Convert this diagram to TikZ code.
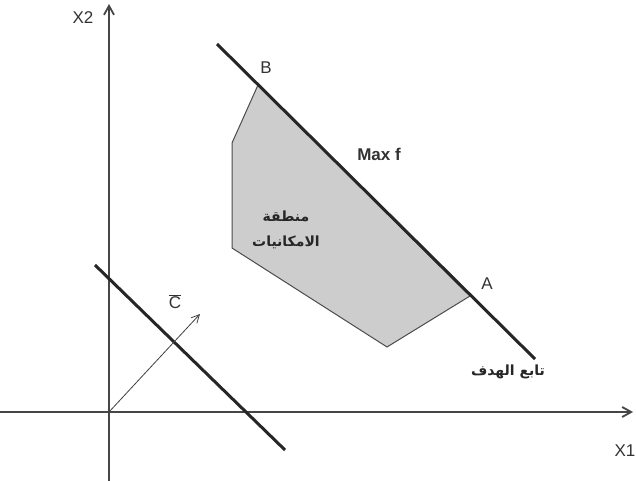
\documentclass[tikz,border=0pt]{standalone}
\usepackage{fontspec}
\setmainfont{Liberation Sans}
\newfontfamily\arabicfont[Script=Arabic]{DejaVu Sans}
\TeXXeTstate=1
\usetikzlibrary{arrows.meta, positioning}
\definecolor{regiongray}{RGB}{205, 205, 205}
\definecolor{axisgray}{RGB}{70, 70, 70}

\begin{document}
\begin{tikzpicture}[
    x=1pt, y=-1pt,
    axis/.style={draw=axisgray, line width=1.8pt, -{Straight Barb[length=9pt, width=10pt]}},
    objline/.style={draw=black!85, line width=3pt},
    region/.style={fill=regiongray, draw=black!70, line width=1pt},
    vec/.style={draw=black!75, line width=0.8pt, -{Straight Barb[length=8pt, width=8pt]}},
    lbl/.style={font=\fontsize{17}{19}\selectfont, text=black!80, inner sep=0pt},
    arlbl/.style={font=\fontsize{14}{18}\selectfont\arabicfont\bfseries, text=black!85, inner sep=0pt}
]
\useasboundingbox[fill=white] (0,0) rectangle (636,481);

% AXES
\coordinate (O) at (109,412);
\coordinate (xstart) at (0,412);
\coordinate (xend) at (633,412);
\coordinate (ybot) at (109,481);
\coordinate (ytop) at (109,4);
\draw[axis] (xstart) -- (xend);
\draw[axis] (ybot) -- (ytop);
\node[lbl] (x1) at (625,451) {X1};
\node[lbl] (x2) at (83,18) {X2};

% FEASIBLE REGION
\coordinate (B) at (258,85);
\coordinate (P1) at (232,143);
\coordinate (P2) at (232,248);
\coordinate (P3) at (387,347);
\coordinate (A) at (470,296);
\filldraw[region] (B) -- (P1) -- (P2) -- (P3) -- (A) -- cycle;
\node[arlbl] (reg1) at (286,216) {\beginR منطقة\endR};
\node[arlbl] (reg2) at (286,242) {\beginR الامكانيات\endR};

% OBJECTIVE LINES
\coordinate (f1) at (217,44);
\coordinate (f2) at (535,359);
\draw[objline] (f1) -- (f2);
\coordinate (g1) at (95,265);
\coordinate (g2) at (285,450);
\draw[objline] (g1) -- (g2);
\node[lbl] (lblB) at (266,68) {B};
\node[lbl] (lblA) at (487,284) {A};
\node[lbl, font=\fontsize{17}{19}\selectfont\bfseries] (maxf) at (379,154) {Max f};
\node[arlbl] (obj) at (508,372) {\beginR تابع الهدف\endR};

% GRADIENT VECTOR
\coordinate (vtip) at (200,314);
\draw[vec] (O) -- (vtip);
\node[lbl] (c) at (175,302) {$\overline{\mbox{C}}$};

\end{tikzpicture}
\end{document}
